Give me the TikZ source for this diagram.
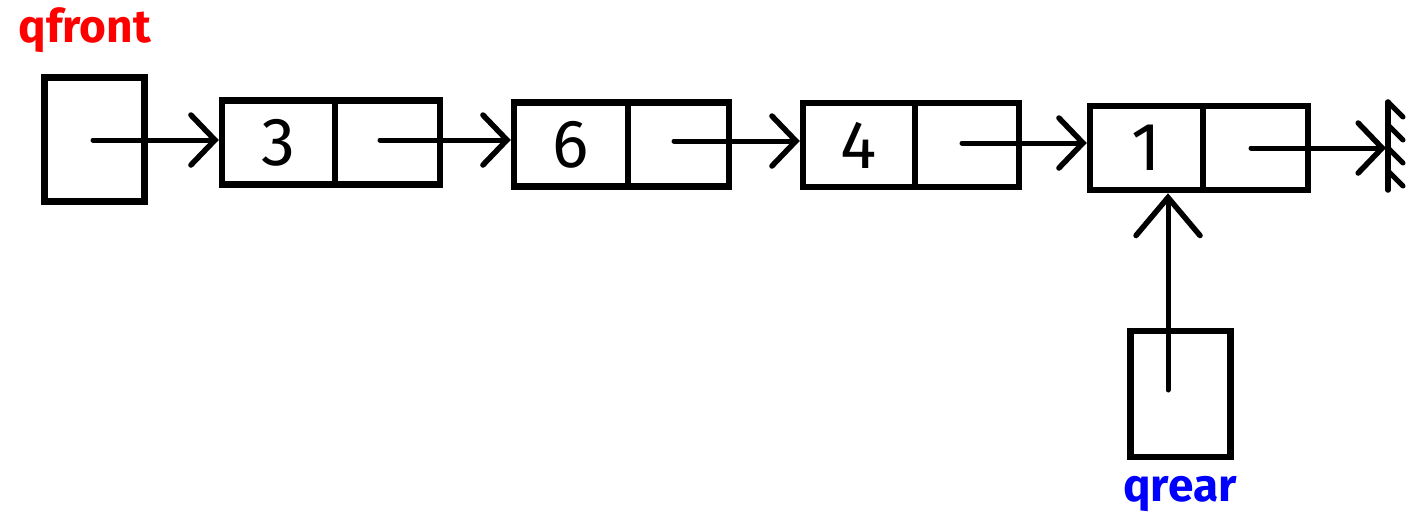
\documentclass[tikz,border=0pt]{standalone}
\usepackage{fontspec}
\setmainfont{Fira Sans}
\usetikzlibrary{arrows.meta,calc}
\tikzset{
  cell/.style={draw, line width=6.5pt, minimum height=84pt, inner sep=0pt, font=\fontsize{68}{68}\selectfont},
  ptrbox/.style={draw, line width=6.5pt, inner sep=0pt, minimum width=100pt, minimum height=124pt},
  ptr/.style={line width=5pt, line cap=round, -{Straight Barb[length=24pt, width=50pt, line width=5.5pt, line cap=round]}},
  uptr/.style={line width=5pt, line cap=round, -{Straight Barb[length=38pt, width=64pt, line width=5.5pt, line cap=round]}},
  lbl/.style={font=\fontsize{46}{46}\selectfont\bfseries}
}
\begin{document}
\begin{tikzpicture}[x=1pt,y=-1pt]
\useasboundingbox (0,0) rectangle (1416,520);
% pointer boxes
\node[ptrbox] (qf) at (94.5,139.5) {};
\node[ptrbox, minimum height=126pt] (qr) at (1180.5,394) {};
\node[lbl, text=red] (qfl) at (85,30) {qfront};
\node[lbl, text=blue] (qrl) at (1180,494) {qrear};
% list nodes
\node[cell, minimum width=113pt] (a1) at (278.5,142.5) {3};
\node[cell, minimum width=105pt] (b1) at (387.5,142.5) {};
\node[cell, minimum width=114pt] (a2) at (571,144.5) {6};
\node[cell, minimum width=101pt] (b2) at (678.5,144.5) {};
\node[cell, minimum width=112pt] (a3) at (859,145) {4};
\node[cell, minimum width=104pt] (b3) at (967,145) {};
\node[cell, minimum width=113pt] (a4) at (1146.5,148) {1};
\node[cell, minimum width=105pt] (b4) at (1255.5,148) {};
% pointer starts
\coordinate (s0) at (93,140);
\coordinate (s1) at (380,140);
\coordinate (s2) at (674,141);
\coordinate (s3) at (962,143);
\coordinate (s4) at (1251,148);
\coordinate (sr) at (1168,390);
\coordinate (g) at (1386,148);
\coordinate (gt) at (1388,102);
\coordinate (gb) at (1388,190);
% connectors
\draw[ptr] (s0) -- (s0 -| a1.west);
\draw[ptr] (s1) -- (s1 -| a2.west);
\draw[ptr] (s2) -- (s2 -| a3.west);
\draw[ptr] (s3) -- (s3 -| a4.west);
\draw[ptr] (s4) -- (g);
\draw[uptr] (sr) -- (sr |- a4.south);
% ground (null)
\draw[line width=5.5pt, line cap=round] (gt) -- (gb);
\foreach \yy in {102,125,148,171}
  \draw[line width=5pt, line cap=round] ($(gt)+(0,\yy-102)$) -- ++(15,15);
\end{tikzpicture}
\end{document}
